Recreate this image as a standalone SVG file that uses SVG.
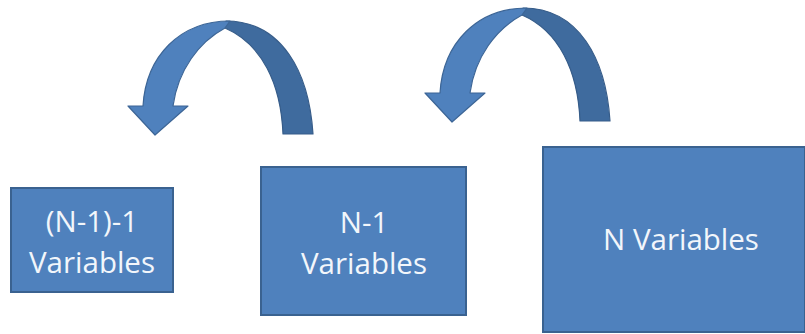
<svg xmlns="http://www.w3.org/2000/svg" width="805" height="334" viewBox="0 0 805 334">
  <defs>
    <style>
      .box { fill: #4F81BD; stroke: #3A6290; stroke-width: 2; }
      .lbl { font-family: "Open Sans", "Noto Sans", sans-serif; font-size: 29.5px; fill: #F2F6FB; text-anchor: middle; }
      .front { fill: #4F81BD; stroke: #3C6596; stroke-width: 1.2; stroke-linejoin: round; }
      .back { fill: #3F6B9E; stroke: #365C89; stroke-width: 1.2; stroke-linejoin: round; }
    </style>
    <!-- curved arrow turning back to the left -->
    <g id="curl">
      <path class="back" d="M226,21 C282,21 309,72 313,134 L283,134 C281,84 262,44 225,28 Z"/>
      <path class="front" d="M143,106 C146,56 180,21 230,21 L225,28 C199,42 178,70 173,106 L188,106 L155,135 L128,106 Z"/>
    </g>
  </defs>

  <rect width="805" height="334" fill="#FFFFFF"/>

  <g id="connectors">
    <use href="#curl"/>
    <use href="#curl" transform="translate(297,-13)"/>
  </g>

  <g id="node-n2">
    <rect class="box" x="11" y="188" width="162" height="104"/>
    <text class="lbl" x="92" y="232">(N-1)-1</text>
    <text class="lbl" x="92" y="273">Variables</text>
  </g>

  <g id="node-n1">
    <rect class="box" x="261" y="167" width="205" height="148"/>
    <text class="lbl" x="364" y="233">N-1</text>
    <text class="lbl" x="364" y="274">Variables</text>
  </g>

  <g id="node-n">
    <rect class="box" x="543" y="147" width="262" height="185"/>
    <text class="lbl" x="681" y="250">N Variables</text>
  </g>
</svg>
